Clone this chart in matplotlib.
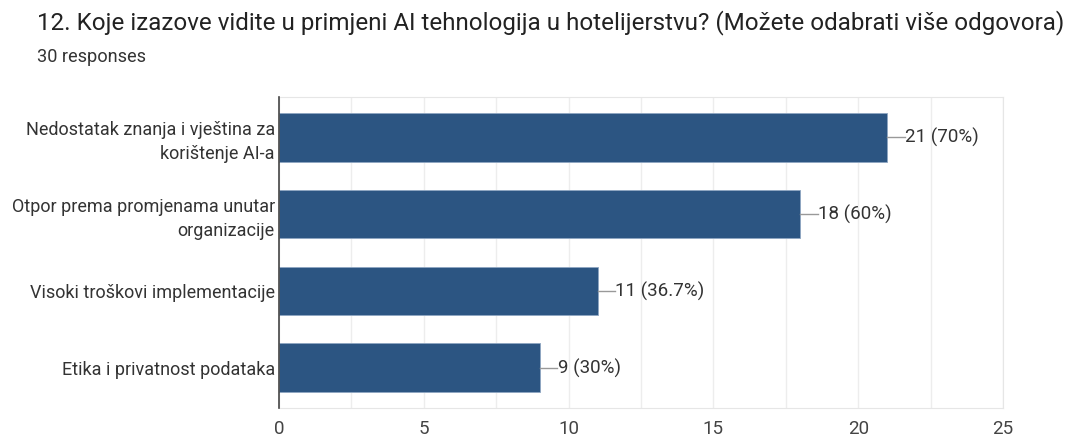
import matplotlib
matplotlib.use("Agg")
import matplotlib.pyplot as plt
from matplotlib.ticker import MultipleLocator

plt.rcParams['font.family'] = ['Roboto', 'DejaVu Sans']

categories = [
    "Nedostatak znanja i vještina za\nkorištenje AI-a",
    "Otpor prema promjenama unutar\norganizacije",
    "Visoki troškovi implementacije",
    "Etika i privatnost podataka",
]
counts = [21, 18, 11, 9]
labels = ["21 (70%)", "18 (60%)", "11 (36.7%)", "9 (30%)"]

fig = plt.figure(figsize=(10.7, 4.38), dpi=100)
ax = fig.add_axes([0.2607, 0.0685, 0.6767, 0.71])

ypos = list(range(len(categories)))
ax.barh(ypos, counts, height=0.636, color="#2c5582", edgecolor="#8fa6c2", linewidth=0.6, zorder=3)

for y, c, lab in zip(ypos, counts, labels):
    ax.plot([c, c + 0.6], [y, y], color="#999999", linewidth=1, zorder=3)
    ax.text(c + 0.62, y, lab, va="center", ha="left", fontsize=13.5, color="#333333")

ax.set_xlim(0, 25)
ax.set_ylim(3.52, -0.52)
ax.set_yticks(ypos)
ax.set_yticklabels(categories, fontsize=13, color="#333333", ha="right",
                   multialignment="right", linespacing=1.45)
ax.xaxis.set_major_locator(MultipleLocator(5))
ax.xaxis.set_minor_locator(MultipleLocator(2.5))
ax.tick_params(axis="x", which="both", length=0, labelsize=13.5, labelcolor="#444444", pad=9)
ax.tick_params(axis="y", length=0, pad=3)
ax.grid(axis="x", which="both", color="#ededed", linewidth=1, zorder=0)

for side in ["top", "right", "bottom"]:
    ax.spines[side].set_color("#e6e6e6")
ax.spines["left"].set_color("#444444")
ax.spines["left"].set_linewidth(1.2)
ax.spines["left"].set_zorder(4)

fig.text(0.0346, 0.932, "12. Koje izazove vidite u primjeni AI tehnologija u hotelijerstvu? (Možete odabrati više odgovora)",
         fontsize=17.4, color="#222222", va="baseline")
fig.text(0.0346, 0.858, "30 responses", fontsize=13.1, color="#333333", va="baseline")

fig.savefig("out.png", dpi=100)
